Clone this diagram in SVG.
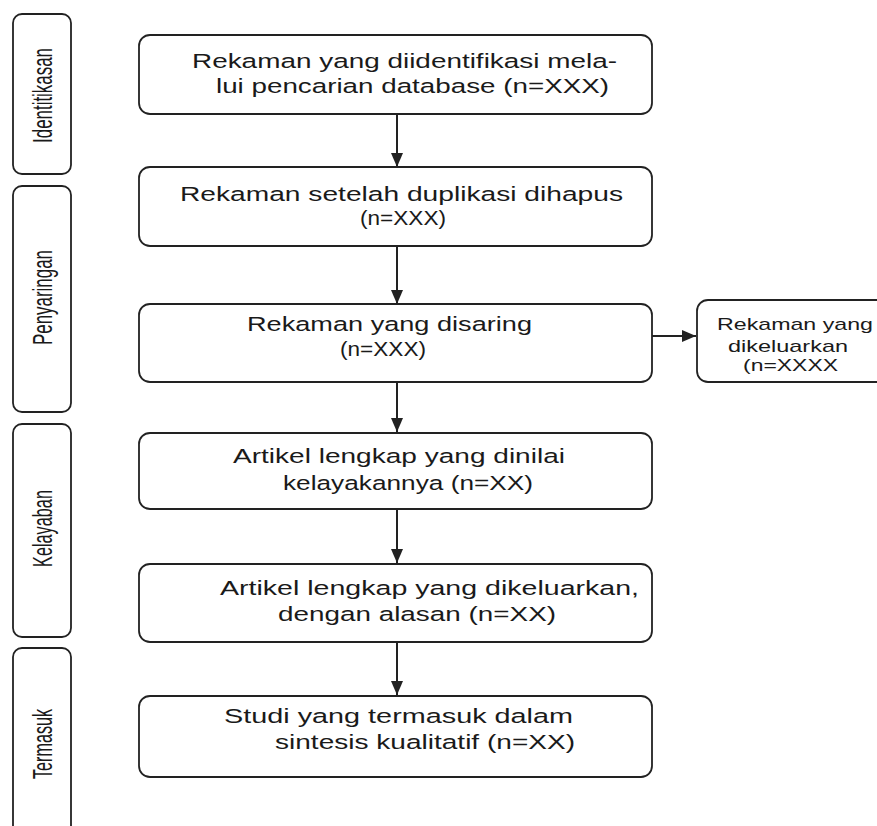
<svg xmlns="http://www.w3.org/2000/svg" width="877" height="826" viewBox="0 0 877 826">
<style>
.box{fill:#fff;stroke:#222;stroke-width:1.8}
.t{font-family:"Liberation Sans",Arial,sans-serif;font-size:20.5px;fill:#1a1a1a}
.ts{font-family:"Liberation Sans",Arial,sans-serif;font-size:17px;fill:#1a1a1a}
.side{font-family:"Liberation Sans",Arial,sans-serif;font-size:27px;fill:#1a1a1a;text-anchor:middle}
.c{stroke:#222;stroke-width:2;fill:none}
</style>
<defs>
<marker id="ah" viewBox="0 0 14 12" refX="14" refY="6" markerWidth="14" markerHeight="12" markerUnits="userSpaceOnUse" orient="auto">
<path d="M0,0 L14,6 L0,12 Z" fill="#222"/>
</marker>
</defs>
<rect width="877" height="826" fill="#fff"/>
<g id="stage-identifikasan"><rect class="box" x="13" y="14" width="58" height="160" rx="9"/><text class="side" transform="translate(52,95.5) rotate(-90) scale(0.627,1)">Identitikasan</text></g>
<g id="stage-penyaringan"><rect class="box" x="13" y="186" width="58" height="226" rx="9"/><text class="side" transform="translate(52,297.5) rotate(-90) scale(0.627,1)">Penyaringan</text></g>
<g id="stage-kelayaban"><rect class="box" x="13" y="424" width="58" height="213" rx="9"/><text class="side" transform="translate(52,528.5) rotate(-90) scale(0.603,1)">Kelayaban</text></g>
<g id="stage-termasuk"><rect class="box" x="13" y="648" width="58" height="200" rx="9"/><text class="side" transform="translate(52,744) rotate(-90) scale(0.6,1)">Termasuk</text></g>

<g id="connectors">
<line class="c" x1="397" y1="114" x2="397" y2="167" marker-end="url(#ah)"/>
<line class="c" x1="397" y1="246" x2="397" y2="304" marker-end="url(#ah)"/>
<line class="c" x1="397" y1="382" x2="397" y2="432" marker-end="url(#ah)"/>
<line class="c" x1="397" y1="509" x2="397" y2="563" marker-end="url(#ah)"/>
<line class="c" x1="397" y1="642" x2="397" y2="695" marker-end="url(#ah)"/>
<line class="c" x1="652" y1="336" x2="696" y2="336" stroke-width="1.5" marker-end="url(#ah)"/>
</g>

<g id="n1"><rect class="box" x="139" y="35" width="513" height="79" rx="11"/>
<text class="t" x="192" y="68" textLength="425" lengthAdjust="spacingAndGlyphs">Rekaman yang diidentifikasi mela-</text>
<text class="t" x="216" y="93" textLength="393" lengthAdjust="spacingAndGlyphs">lui pencarian database (n=XXX)</text></g>
<g id="n2"><rect class="box" x="139" y="167" width="513" height="79" rx="11"/>
<text class="t" x="180" y="201" textLength="443" lengthAdjust="spacingAndGlyphs">Rekaman setelah duplikasi dihapus</text>
<text class="t" x="360" y="225" textLength="86" lengthAdjust="spacingAndGlyphs">(n=XXX)</text></g>
<g id="n3"><rect class="box" x="139" y="304" width="513" height="78" rx="11"/>
<text class="t" x="247" y="331" textLength="285" lengthAdjust="spacingAndGlyphs">Rekaman yang disaring</text>
<text class="t" x="340" y="356" textLength="86" lengthAdjust="spacingAndGlyphs">(n=XXX)</text></g>
<g id="n-excluded"><rect class="box" x="697" y="300" width="195" height="82" rx="11"/>
<text class="ts" x="717" y="330" textLength="156" lengthAdjust="spacingAndGlyphs">Rekaman yang</text>
<text class="ts" x="728" y="352" textLength="120" lengthAdjust="spacingAndGlyphs">dikeluarkan</text>
<text class="ts" x="743" y="371" textLength="95" lengthAdjust="spacingAndGlyphs">(n=XXXX</text></g>
<g id="n4"><rect class="box" x="139" y="433" width="513" height="76" rx="11"/>
<text class="t" x="233" y="463" textLength="332" lengthAdjust="spacingAndGlyphs">Artikel lengkap yang dinilai</text>
<text class="t" x="283" y="490" textLength="250" lengthAdjust="spacingAndGlyphs">kelayakannya (n=XX)</text></g>
<g id="n5"><rect class="box" x="139" y="564" width="513" height="78" rx="11"/>
<text class="t" x="220" y="595" textLength="419" lengthAdjust="spacingAndGlyphs">Artikel lengkap yang dikeluarkan,</text>
<text class="t" x="278" y="621" textLength="278" lengthAdjust="spacingAndGlyphs">dengan alasan (n=XX)</text></g>
<g id="n6"><rect class="box" x="139" y="696" width="513" height="81" rx="11"/>
<text class="t" x="224" y="723" textLength="349" lengthAdjust="spacingAndGlyphs">Studi yang termasuk dalam</text>
<text class="t" x="275" y="749" textLength="300" lengthAdjust="spacingAndGlyphs">sintesis kualitatif (n=XX)</text></g>
</svg>
